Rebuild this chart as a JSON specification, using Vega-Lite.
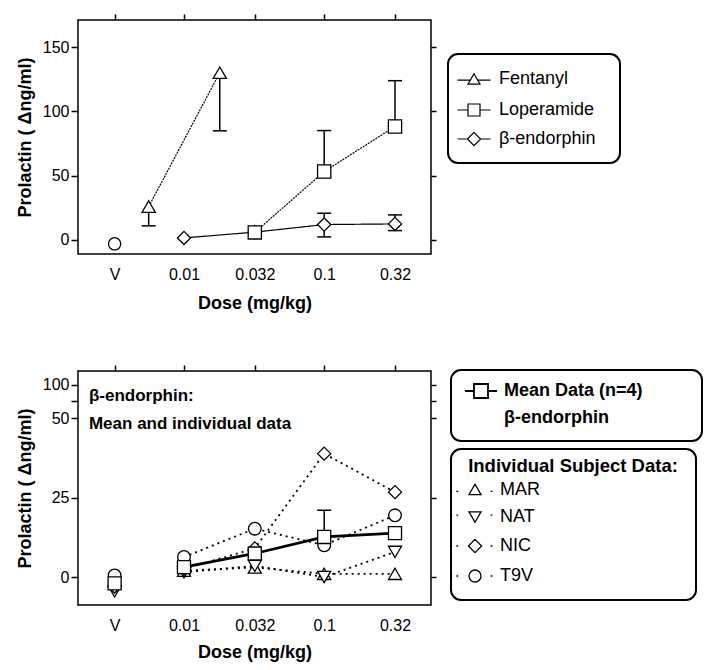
{
  "$schema": "https://vega.github.io/schema/vega-lite/v6.json",
  "padding": {"left": 15, "top": 12, "right": 5, "bottom": 5},
  "background": "white",
  "spacing": 50,
  "config": {
    "font": "Liberation Sans",
    "view": {"stroke": "black", "strokeWidth": 1.5},
    "axis": {"grid": false, "labelFont": "Liberation Sans", "labelFontSize": 16, "labelColor": "black", "titleFont": "Liberation Sans", "titleFontSize": 18, "titleFontWeight": "bold", "titleColor": "black", "tickColor": "black", "tickWidth": 1.5, "domain": false},
    "legend": {"labelFont": "Liberation Sans", "titleFont": "Liberation Sans", "labelColor": "black", "titleColor": "black", "strokeColor": "black", "strokeWidth": 2, "cornerRadius": 10, "labelFontSize": 18, "labelLimit": 400, "titleLimit": 400, "symbolOpacity": 1, "symbolFillColor": "white", "symbolStrokeColor": "black"}
  },
  "resolve": {"scale": {"stroke": "independent"}, "legend": {"stroke": "independent"}},
  "datasets": {
    "top": [
      {"drug": "Fentanyl", "dose": 0.0056, "prolactin": 25.9},
      {"drug": "Fentanyl", "dose": 0.018, "prolactin": 130},
      {"drug": "β-endorphin", "dose": 0.01, "prolactin": 1.5},
      {"drug": "β-endorphin", "dose": 0.032, "prolactin": 6},
      {"drug": "β-endorphin", "dose": 0.1, "prolactin": 11.9},
      {"drug": "β-endorphin", "dose": 0.32, "prolactin": 12.4},
      {"drug": "Loperamide", "dose": 0.032, "prolactin": 5.8},
      {"drug": "Loperamide", "dose": 0.1, "prolactin": 53.1},
      {"drug": "Loperamide", "dose": 0.32, "prolactin": 88.2}
    ],
    "topErr": [
      {"drug": "Fentanyl", "dose": 0.0056, "mean": 25.9, "bound": 10.9},
      {"drug": "Fentanyl", "dose": 0.018, "mean": 130, "bound": 84.8},
      {"drug": "Loperamide", "dose": 0.1, "mean": 53.1, "bound": 85},
      {"drug": "Loperamide", "dose": 0.32, "mean": 88.2, "bound": 123.8},
      {"drug": "β-endorphin", "dose": 0.1, "mean": 11.9, "bound": 20.7},
      {"drug": "β-endorphin", "dose": 0.1, "mean": 11.9, "bound": 2.3},
      {"drug": "β-endorphin", "dose": 0.32, "mean": 12.4, "bound": 19.4},
      {"drug": "β-endorphin", "dose": 0.32, "mean": 12.4, "bound": 7.2}
    ],
    "topVeh": [
      {"drug": "Vehicle", "dose": 0.0032, "prolactin": -3.1}
    ],
    "indiv": [
      {"subject": "MAR", "dose": 0.0032, "prolactin": -1},
      {"subject": "MAR", "dose": 0.01, "prolactin": 2},
      {"subject": "MAR", "dose": 0.032, "prolactin": 3},
      {"subject": "MAR", "dose": 0.1, "prolactin": 1},
      {"subject": "MAR", "dose": 0.32, "prolactin": 1},
      {"subject": "NAT", "dose": 0.0032, "prolactin": -4.5},
      {"subject": "NAT", "dose": 0.01, "prolactin": 1.5},
      {"subject": "NAT", "dose": 0.032, "prolactin": 3.5},
      {"subject": "NAT", "dose": 0.1, "prolactin": 0},
      {"subject": "NAT", "dose": 0.32, "prolactin": 7.9},
      {"subject": "NIC", "dose": 0.0032, "prolactin": -3},
      {"subject": "NIC", "dose": 0.01, "prolactin": 2.5},
      {"subject": "NIC", "dose": 0.032, "prolactin": 9},
      {"subject": "NIC", "dose": 0.1, "prolactin": 38.8},
      {"subject": "NIC", "dose": 0.32, "prolactin": 26.7},
      {"subject": "T9V", "dose": 0.0032, "prolactin": 0.5},
      {"subject": "T9V", "dose": 0.01, "prolactin": 6.3},
      {"subject": "T9V", "dose": 0.032, "prolactin": 15.2},
      {"subject": "T9V", "dose": 0.1, "prolactin": 10},
      {"subject": "T9V", "dose": 0.32, "prolactin": 19.4}
    ],
    "mean": [
      {"series": "Mean Data (n=4)", "dose": 0.0032, "prolactin": -2},
      {"series": "Mean Data (n=4)", "dose": 0.01, "prolactin": 3.1},
      {"series": "Mean Data (n=4)", "dose": 0.032, "prolactin": 7.4},
      {"series": "Mean Data (n=4)", "dose": 0.1, "prolactin": 12.6},
      {"series": "Mean Data (n=4)", "dose": 0.32, "prolactin": 13.8}
    ],
    "meanErr": [
      {"series": "Mean Data (n=4)", "dose": 0.1, "mean": 12.6, "bound": 21}
    ]
  },
  "vconcat": [
    {
      "width": 353,
      "height": 234,
      "resolve": {"axis": {"x": "independent", "y": "independent"}, "scale": {"stroke": "independent"}, "legend": {"stroke": "independent"}},
      "layer": [
        {
          "data": {"name": "top"},
          "mark": {"type": "line", "color": "black", "strokeWidth": 1.2},
          "encoding": {
            "x": {"field": "dose", "type": "quantitative", "scale": {"type": "log", "domain": [0.001754, 0.578], "nice": false},
                  "axis": {"orient": "bottom", "values": [0.0032, 0.01, 0.032, 0.1, 0.32], "labelExpr": "datum.value < 0.005 ? 'V' : format(datum.value, '~g')", "ticks": false, "labelPadding": 12, "title": "Dose (mg/kg)", "titlePadding": 12}},
            "y": {"field": "prolactin", "type": "quantitative", "scale": {"domain": [-11, 171], "nice": false, "zero": false},
                  "axis": {"orient": "left", "values": [0, 50, 100, 150], "title": "Prolactin ( Δng/ml)", "tickSize": 7, "labelPadding": 2, "titlePadding": 8}},
            "detail": {"field": "drug"},
            "strokeDash": {"condition": {"test": "datum.drug === 'β-endorphin'", "value": [1, 0]}, "value": [2, 1]}
          }
        },
        {
          "data": {"name": "topErr"},
          "mark": {"type": "rule", "color": "black", "strokeWidth": 1.5},
          "encoding": {
            "x": {"field": "dose", "type": "quantitative", "scale": {"type": "log", "domain": [0.001754, 0.578], "nice": false}, "axis": null},
            "y": {"field": "mean", "type": "quantitative", "scale": {"domain": [-11, 171], "nice": false, "zero": false}, "axis": null},
            "y2": {"field": "bound"}
          }
        },
        {
          "data": {"name": "topErr"},
          "mark": {"type": "tick", "orient": "horizontal", "color": "black", "size": 14, "thickness": 1.5, "opacity": 1},
          "encoding": {
            "x": {"field": "dose", "type": "quantitative", "scale": {"type": "log", "domain": [0.001754, 0.578], "nice": false}, "axis": null},
            "y": {"field": "bound", "type": "quantitative", "scale": {"domain": [-11, 171], "nice": false, "zero": false}, "axis": null}
          }
        },
        {
          "data": {"name": "topVeh"},
          "mark": {"type": "point", "shape": "circle", "filled": true, "fill": "white", "stroke": "black", "strokeWidth": 1.3, "size": 150, "opacity": 1},
          "encoding": {
            "x": {"field": "dose", "type": "quantitative", "scale": {"type": "log", "domain": [0.001754, 0.578], "nice": false},
                  "axis": {"orient": "top", "values": [0.0032, 0.01, 0.032, 0.1, 0.32], "labels": false, "title": null, "tickSize": 6}},
            "y": {"field": "prolactin", "type": "quantitative", "scale": {"domain": [-11, 171], "nice": false, "zero": false},
                  "axis": {"orient": "right", "values": [0, 50, 100, 150], "labels": false, "title": null, "tickSize": 5}}
          }
        },
        {
          "data": {"name": "top"},
          "transform": [{"filter": "datum.drug === 'Fentanyl'"}],
          "mark": {"type": "point", "shape": "triangle-up", "filled": true, "fill": "white", "strokeWidth": 1.3, "size": 175, "opacity": 1},
          "encoding": {
            "x": {"field": "dose", "type": "quantitative", "scale": {"type": "log", "domain": [0.001754, 0.578], "nice": false}, "axis": null},
            "y": {"field": "prolactin", "type": "quantitative", "scale": {"domain": [-11, 171], "nice": false, "zero": false}, "axis": null},
            "stroke": {"field": "drug", "type": "nominal", "scale": {"range": ["black"]},
                       "legend": {"orient": "none", "legendX": 370, "legendY": 34, "title": null, "padding": 16, "symbolSize": 144, "symbolStrokeWidth": 1.2, "symbolOffset": 1, "labelOffset": 16,
                                  "symbolType": "M0,-0.87L1,0.87L-1,0.87Z M-2.75,0.2H-0.62 M0.62,0.2H2.75 M21.2,10.8"}}
          }
        },
        {
          "data": {"name": "top"},
          "transform": [{"filter": "datum.drug === 'β-endorphin'"}],
          "mark": {"type": "point", "shape": "diamond", "filled": true, "fill": "white", "strokeWidth": 1.3, "size": 175, "opacity": 1},
          "encoding": {
            "x": {"field": "dose", "type": "quantitative", "scale": {"type": "log", "domain": [0.001754, 0.578], "nice": false}, "axis": null},
            "y": {"field": "prolactin", "type": "quantitative", "scale": {"domain": [-11, 171], "nice": false, "zero": false}, "axis": null},
            "stroke": {"field": "drug", "type": "nominal", "scale": {"range": ["black"]},
                       "legend": {"orient": "none", "legendX": 370, "legendY": 94, "title": null, "padding": 16, "strokeColor": "transparent", "symbolSize": 144, "symbolStrokeWidth": 1.2, "symbolOffset": 1, "labelOffset": 16,
                                  "symbolType": "M0,-1.1L1.1,0L0,1.1L-1.1,0Z M-2.75,0H-1.1 M1.1,0H2.75"}}
          }
        },
        {
          "data": {"name": "top"},
          "transform": [{"filter": "datum.drug === 'Loperamide'"}],
          "mark": {"type": "point", "shape": "square", "filled": true, "fill": "white", "strokeWidth": 1.3, "size": 175, "opacity": 1},
          "encoding": {
            "x": {"field": "dose", "type": "quantitative", "scale": {"type": "log", "domain": [0.001754, 0.578], "nice": false}, "axis": null},
            "y": {"field": "prolactin", "type": "quantitative", "scale": {"domain": [-11, 171], "nice": false, "zero": false}, "axis": null},
            "stroke": {"field": "drug", "type": "nominal", "scale": {"range": ["black"]},
                       "legend": {"orient": "none", "legendX": 370, "legendY": 65, "title": null, "padding": 16, "strokeColor": "transparent", "symbolSize": 144, "symbolStrokeWidth": 1.2, "symbolOffset": 1, "labelOffset": 16,
                                  "symbolType": "M-1,-1H1V1H-1Z M-2.75,0H-1 M1,0H2.75"}}
          }
        }
      ]
    },
    {
      "width": 353,
      "height": 234,
      "resolve": {"axis": {"x": "independent", "y": "independent"}, "scale": {"stroke": "independent"}, "legend": {"stroke": "independent"}},
      "layer": [
        {
          "data": {"name": "indiv"},
          "transform": [{"filter": "datum.dose > 0.005"}],
          "mark": {"type": "line", "color": "black", "strokeWidth": 1.8, "strokeDash": [2, 4]},
          "encoding": {
            "x": {"field": "dose", "type": "quantitative", "scale": {"type": "log", "domain": [0.001754, 0.578], "nice": false},
                  "axis": {"orient": "bottom", "values": [0.0032, 0.01, 0.032, 0.1, 0.32], "labelExpr": "datum.value < 0.005 ? 'V' : format(datum.value, '~g')", "ticks": false, "labelPadding": 12, "title": "Dose (mg/kg)", "titlePadding": 10}},
            "y": {"field": "prolactin", "type": "quantitative", "scale": {"domain": [-8.8, 64.8], "nice": false, "zero": false},
                  "axis": {"orient": "left", "values": [0, 25, 50, 55.3, 60.4], "labelExpr": "datum.value > 58 ? '100' : (datum.value > 52 ? '' : datum.label)", "title": "Prolactin ( Δng/ml)", "tickSize": 7, "labelPadding": 2, "titlePadding": 8}},
            "detail": {"field": "subject"}
          }
        },
        {
          "data": {"name": "mean"},
          "transform": [{"filter": "datum.dose > 0.005"}],
          "mark": {"type": "line", "color": "black", "strokeWidth": 2.8},
          "encoding": {
            "x": {"field": "dose", "type": "quantitative", "scale": {"type": "log", "domain": [0.001754, 0.578], "nice": false}, "axis": null},
            "y": {"field": "prolactin", "type": "quantitative", "scale": {"domain": [-8.8, 64.8], "nice": false, "zero": false}, "axis": null}
          }
        },
        {
          "data": {"name": "meanErr"},
          "mark": {"type": "rule", "color": "black", "strokeWidth": 1.5},
          "encoding": {
            "x": {"field": "dose", "type": "quantitative", "scale": {"type": "log", "domain": [0.001754, 0.578], "nice": false}, "axis": null},
            "y": {"field": "mean", "type": "quantitative", "scale": {"domain": [-8.8, 64.8], "nice": false, "zero": false}, "axis": null},
            "y2": {"field": "bound"}
          }
        },
        {
          "data": {"name": "meanErr"},
          "mark": {"type": "tick", "orient": "horizontal", "color": "black", "size": 14, "thickness": 1.5, "opacity": 1},
          "encoding": {
            "x": {"field": "dose", "type": "quantitative", "scale": {"type": "log", "domain": [0.001754, 0.578], "nice": false},
                  "axis": {"orient": "top", "values": [0.0032, 0.01, 0.032, 0.1, 0.32], "labels": false, "title": null, "tickSize": 6}},
            "y": {"field": "bound", "type": "quantitative", "scale": {"domain": [-8.8, 64.8], "nice": false, "zero": false},
                  "axis": {"orient": "right", "values": [0, 25, 50, 55.3, 60.4], "labels": false, "title": null, "tickSize": 5}}
          }
        },
        {
          "data": {"name": "indiv"},
          "transform": [{"filter": "datum.subject === 'MAR'"}],
          "mark": {"type": "point", "shape": "triangle-up", "filled": true, "fill": "white", "strokeWidth": 1.3, "size": 170, "opacity": 1},
          "encoding": {
            "x": {"field": "dose", "type": "quantitative", "scale": {"type": "log", "domain": [0.001754, 0.578], "nice": false}, "axis": null},
            "y": {"field": "prolactin", "type": "quantitative", "scale": {"domain": [-8.8, 64.8], "nice": false, "zero": false}, "axis": null},
            "stroke": {"field": "subject", "type": "nominal", "scale": {"range": ["black"]},
                       "legend": {"orient": "none", "legendX": 373, "legendY": 78, "title": "Individual Subject Data:", "titleFontSize": 18.5, "titleFontWeight": "bold", "titleAnchor": "middle", "titlePadding": 5, "padding": 8, "symbolSize": 144, "symbolStrokeWidth": 1.3, "symbolOffset": 7, "labelOffset": 16,
                                  "symbolType": "M0,-0.87L1,0.87L-1,0.87Z M-4.1,0.3H-3.8 M-3.1,0.3H-2.8 M2.6,0.3H2.9 M35,16.5"}}
          }
        },
        {
          "data": {"name": "indiv"},
          "transform": [{"filter": "datum.subject === 'NAT'"}],
          "mark": {"type": "point", "shape": "triangle-down", "filled": true, "fill": "white", "strokeWidth": 1.3, "size": 170, "opacity": 1},
          "encoding": {
            "x": {"field": "dose", "type": "quantitative", "scale": {"type": "log", "domain": [0.001754, 0.578], "nice": false}, "axis": null},
            "y": {"field": "prolactin", "type": "quantitative", "scale": {"domain": [-8.8, 64.8], "nice": false, "zero": false}, "axis": null},
            "stroke": {"field": "subject", "type": "nominal", "scale": {"range": ["black"]},
                       "legend": {"orient": "none", "legendX": 373, "legendY": 129, "title": null, "padding": 8, "strokeColor": "transparent", "symbolSize": 144, "symbolStrokeWidth": 1.3, "symbolOffset": 7, "labelOffset": 16,
                                  "symbolType": "M0,0.87L1,-0.87L-1,-0.87Z M-4.1,-0.3H-3.8 M-3.1,-0.3H-2.8 M2.6,-0.3H2.9"}}
          }
        },
        {
          "data": {"name": "indiv"},
          "transform": [{"filter": "datum.subject === 'NIC'"}],
          "mark": {"type": "point", "shape": "diamond", "filled": true, "fill": "white", "strokeWidth": 1.3, "size": 170, "opacity": 1},
          "encoding": {
            "x": {"field": "dose", "type": "quantitative", "scale": {"type": "log", "domain": [0.001754, 0.578], "nice": false}, "axis": null},
            "y": {"field": "prolactin", "type": "quantitative", "scale": {"domain": [-8.8, 64.8], "nice": false, "zero": false}, "axis": null},
            "stroke": {"field": "subject", "type": "nominal", "scale": {"range": ["black"]},
                       "legend": {"orient": "none", "legendX": 373, "legendY": 158, "title": null, "padding": 8, "strokeColor": "transparent", "symbolSize": 144, "symbolStrokeWidth": 1.3, "symbolOffset": 7, "labelOffset": 16,
                                  "symbolType": "M0,-1.1L1.1,0L0,1.1L-1.1,0Z M-4.1,0H-3.8 M-3.1,0H-2.8 M2.6,0H2.9"}}
          }
        },
        {
          "data": {"name": "indiv"},
          "transform": [{"filter": "datum.subject === 'T9V'"}],
          "mark": {"type": "point", "shape": "circle", "filled": true, "fill": "white", "strokeWidth": 1.3, "size": 160, "opacity": 1},
          "encoding": {
            "x": {"field": "dose", "type": "quantitative", "scale": {"type": "log", "domain": [0.001754, 0.578], "nice": false}, "axis": null},
            "y": {"field": "prolactin", "type": "quantitative", "scale": {"domain": [-8.8, 64.8], "nice": false, "zero": false}, "axis": null},
            "stroke": {"field": "subject", "type": "nominal", "scale": {"range": ["black"]},
                       "legend": {"orient": "none", "legendX": 373, "legendY": 188, "title": null, "padding": 8, "strokeColor": "transparent", "symbolSize": 144, "symbolStrokeWidth": 1.3, "symbolOffset": 7, "labelOffset": 16,
                                  "symbolType": "M1,0A1,1,0,1,1,-1,0A1,1,0,1,1,1,0Z M-4.1,0H-3.8 M-3.1,0H-2.8 M2.6,0H2.9"}}
          }
        },
        {
          "data": {"name": "mean"},
          "mark": {"type": "point", "shape": "square", "filled": true, "fill": "white", "strokeWidth": 1.3, "size": 170, "opacity": 1},
          "encoding": {
            "x": {"field": "dose", "type": "quantitative", "scale": {"type": "log", "domain": [0.001754, 0.578], "nice": false}, "axis": null},
            "y": {"field": "prolactin", "type": "quantitative", "scale": {"domain": [-8.8, 64.8], "nice": false, "zero": false}, "axis": null},
            "stroke": {"field": "series", "type": "nominal", "scale": {"domain": ["Mean Data (n=4)", "β-endorphin"], "range": ["black", "white"]},
                       "legend": {"orient": "none", "legendX": 373, "legendY": -1, "title": null, "padding": 12, "labelFontWeight": "bold", "symbolSize": 196, "symbolStrokeWidth": 1.8, "symbolOffset": 9, "labelOffset": 14, "rowPadding": 5, "symbolOpacity": 1,
                                  "symbolType": "M-1,-1H1V1H-1Z M-2.3,0H-1 M1,0H2.3 M29.3,0"}}
          }
        },
        {
          "data": {"values": [{}]},
          "mark": {"type": "text", "align": "left", "baseline": "top", "fontSize": 17, "fontWeight": "bold", "font": "Liberation Sans", "lineHeight": 28, "color": "black", "text": ["β-endorphin:", "Mean and individual data"]},
          "encoding": {
            "x": {"datum": 0.0021, "type": "quantitative", "scale": {"type": "log", "domain": [0.001754, 0.578], "nice": false}, "axis": null},
            "y": {"datum": 59.3, "type": "quantitative", "scale": {"domain": [-8.8, 64.8], "nice": false, "zero": false}, "axis": null}
          }
        }
      ]
    }
  ]
}
